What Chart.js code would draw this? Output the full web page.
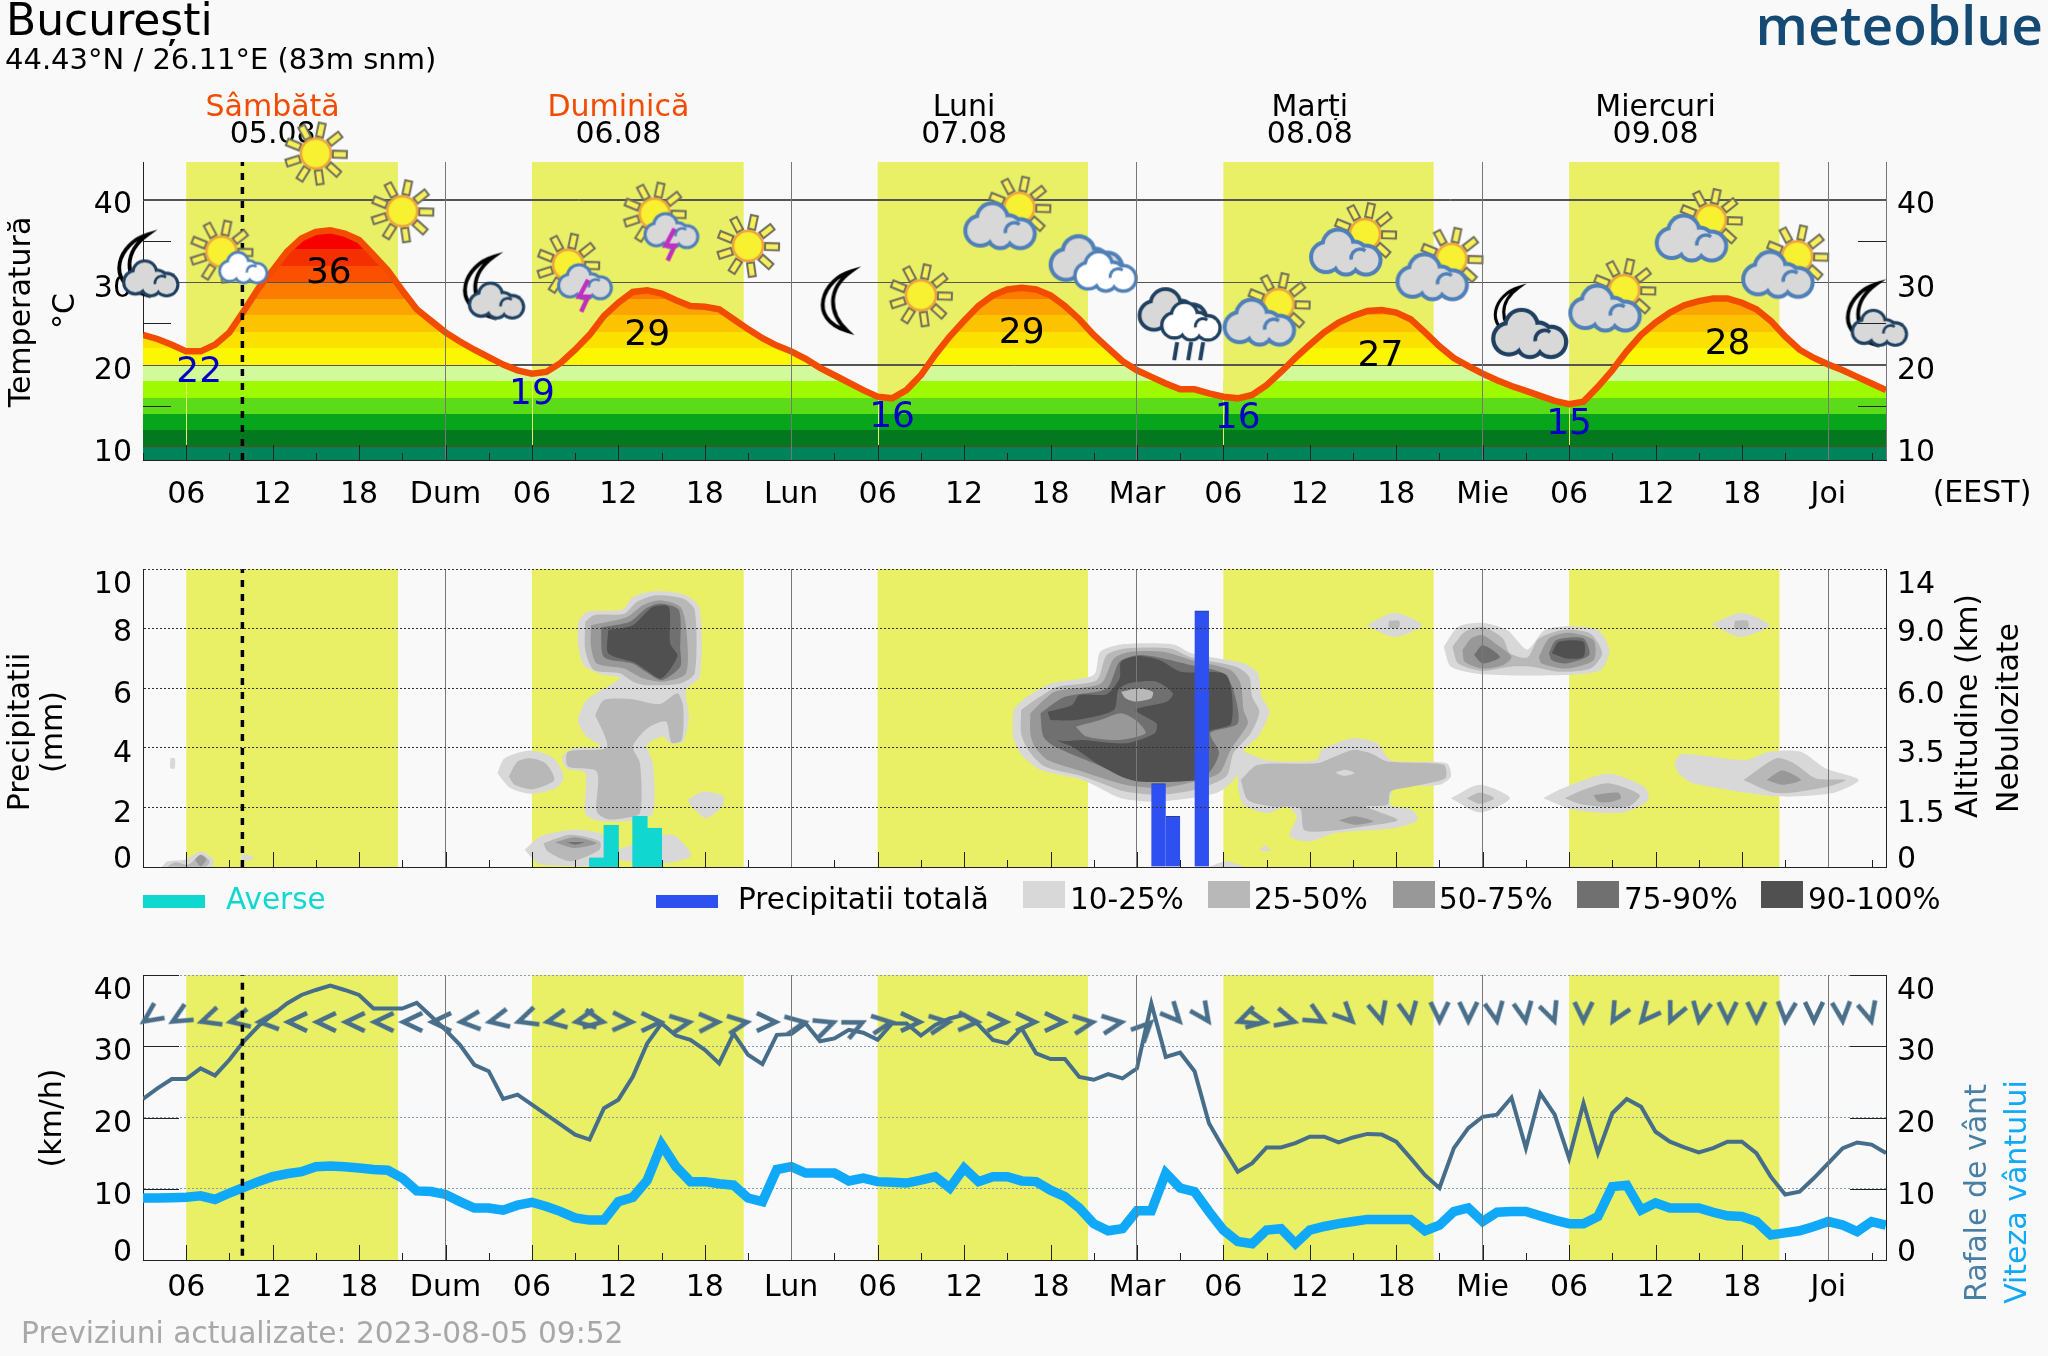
<!DOCTYPE html>
<html>
<head>
<meta charset="utf-8">
<title>meteoblue București</title>
<style>
html,body{margin:0;padding:0;background:#f9f9f9;width:2048px;height:1356px;overflow:hidden}
canvas{position:absolute;left:0;display:block}
</style>
<script src="https://cdn.jsdelivr.net/npm/chart.js@4"></script>
</head>
<body>
<canvas id="topChart" width="2048" height="530" style="top:0"></canvas>
<canvas id="midChart" width="2048" height="400" style="top:530px"></canvas>
<canvas id="lowChart" width="2048" height="426" style="top:930px"></canvas>
<script>
// time axis, hours counted from Saturday 00:00
const xMin = 3, xMax = 124;
const nowHour = 9.9;
const dayAbbrev = ['Dum', 'Lun', 'Mar', 'Mie', 'Joi'];
const dayNames = ['Sâmbătă', 'Duminică', 'Luni', 'Marți', 'Miercuri'];
const dayDates = ['05.08', '06.08', '07.08', '08.08', '09.08'];
const dayNameColors = ['#f24c00', '#f24c00', '#000', '#000', '#000'];
const dayNoon = [12, 36, 60, 84, 108];
const dawn = [6, 30, 54, 78, 102];
const dusk = [20.7, 44.7, 68.6, 92.6, 116.6];

// temperature, one value per hour from xMin to xMax
const temperature = [
  23.6,23.1,22.4,21.6,21.6,22.4,23.9,26.5,29.2,31.4,
  33.7,35.3,36.1,36.3,35.9,35.1,33.3,31.4,29.0,26.7,
  25.3,23.9,22.8,21.8,20.9,20.0,19.3,18.9,19.1,20.2,
  21.8,23.6,25.9,27.5,28.8,29.0,28.6,27.8,27.1,27.0,
  26.7,25.5,24.3,23.2,22.3,21.6,20.7,19.6,18.7,17.8,
  16.9,16.1,15.9,16.9,18.7,21.2,23.4,25.3,27.1,28.4,
  29.1,29.3,29.1,28.4,27.1,25.5,23.6,22.0,20.4,19.3,
  18.5,17.7,17.0,17.0,16.5,16.1,15.9,16.3,17.5,19.1,
  20.8,22.4,23.9,25.1,25.9,26.5,26.6,26.3,25.5,23.9,
  22.2,20.8,19.8,18.9,18.1,17.4,16.8,16.2,15.6,15.2,
  15.5,17.3,19.3,21.6,23.6,25.1,26.3,27.2,27.7,28.0,
  28.0,27.5,26.7,25.3,23.4,21.8,20.8,20.0,19.3,18.5,
  17.7,16.9];
const tempTicks = [10, 20, 30, 40];
const tempShortTicks = [15, 25, 35];
// colour steps of the temperature fill, every 2 degrees from below 10
const tempSteps = [10,12,14,16,18,20,22,24,26,28,30,32,34];
const tempColors = ['#00835a','#04781e','#06a51c','#5cdc18','#9ffa00','#d2f99a','#fbf700','#fae100','#fcc400','#fca500','#fb7c00','#fb5000','#f53000','#f60000'];
// daily min / max labels
const extremeHours = [6.9, 15.9, 30, 38, 55, 64, 79, 88.9, 102, 113];
const extremeRows = [19.05, 31.0, 16.4, 23.5, 13.5, 23.8, 13.4, 21.0, 12.7, 22.4];
const extremeValues = ['22', '36', '19', '29', '16', '29', '16', '27', '15', '28'];
const extremeColors = ['#0000c8','#000','#0000c8','#000','#0000c8','#000','#0000c8','#000','#0000c8','#000'];
// weather pictograms
const iconHours = [3,9,15,21,27,33,39,45,51,57,63,69,75,81,87,93,99,105,111,117,123];
const iconRows = [32.4,33.7,45.6,38.6,29.7,30.9,37.1,34.4,27.7,28.4,38.3,32.4,24.9,26.6,35.1,32.1,25.3,28.3,36.8,32.4,26.4];
const iconKinds = ['moonCloud','sunWhite','sun','sun','moonCloud','sunStorm','sunStorm','sun','moon','sun','sunCloud','clouds','rain','sunCloud','sunCloud','sunCloud','moonBig','sunCloud','sunCloud','sunCloud','moonCloud'];

// precipitation, bars centred on the hour they fill
const showerHours = [34.5, 35.5, 37.5, 38.5];
const showerMm = [0.3, 1.4, 1.7, 1.3];
const totalHours = [34.5, 35.5, 37.5, 38.5, 73.5, 74.5, 76.5];
const totalMm = [0.3, 1.4, 1.7, 1.3, 2.8, 1.7, 8.6];
const rainTicks = [0, 2, 4, 6, 8, 10];
const altitudeLabels = ['0', '1.5', '3.5', '6.0', '9.0', '14'];

// cloud cover contours as [hour, axis value] outlines, one list per cover class
const cloudLevel1 = [
  [[33.2,8.23],[33.8,8.56],[36.3,8.64],[37,9.06],[38.6,9.26],[40.7,9.12],[41.65,8.67],[41.65,6.38],[40.7,5.94],[40.9,5.04],[40.5,4.21],[39.6,4.15],[39.1,4.38],[38,4.1],[38.4,3.48],[38.4,1.81],[37,1.56],[34.5,1.56],[33.7,1.81],[33.7,3.15],[32.4,3.31],[32.1,3.7],[32.9,3.98],[34.8,4.04],[33.8,4.38],[33.2,4.88],[33.8,5.6],[36.1,6.33],[34.8,6.47],[33.6,6.77],[33.2,7.5]],
  [[27.6,3.15],[28.1,3.65],[29.9,3.91],[31.5,3.65],[32.2,3.04],[31.7,2.65],[29.9,2.46],[28.5,2.65]],
  [[40.8,2.25],[41.9,2.53],[43.3,2.37],[43.2,2.03],[42.1,1.64],[41.2,1.98]],
  [[29.5,0.58],[30.6,1.03],[32.9,1.25],[34.7,1.14],[35.2,0.92],[35.2,0.08],[30.6,0.08],[29.9,0.36]],
  [[36,0.58],[39.1,1.08],[40,1.03],[41.05,0.38],[39.1,0.13],[36,0.25]],
  [[4.3,0],[4.7,0.19],[5.96,0.25],[7.03,0.52],[7.9,0.25],[7.74,0]],
  [[4.9,3.65],[5.2,3.65],[5.2,3.31],[4.9,3.31]],
  [[9.86,0.47],[10.75,0.3],[9.86,0.19]],
  [[63.4,5.27],[64.35,5.71],[66.05,6.16],[69,6.44],[69.45,7.22],[70.9,7.47],[74.55,7.47],[75.8,7.17],[79.4,6.83],[80.4,6.5],[80.65,5.71],[81.2,5.21],[80.4,4.38],[79.4,3.93],[78.9,3.04],[77.5,2.48],[73.6,2.2],[70.9,2.31],[68.25,2.92],[65.3,3.26],[63.9,3.82],[63.4,4.38]],
  [[79.2,3.93],[81.1,3.57],[84.5,3.59],[84.8,3.93],[87,4.32],[88.7,4.15],[89.6,3.59],[93.5,3.48],[93.8,3.04],[93,2.76],[89.9,2.65],[89.6,2.09],[91.1,1.92],[91.5,1.58],[89.9,1.31],[85.75,1.14],[84,0.86],[82.6,1.03],[83.1,1.7],[82.35,2.03],[81.1,1.81],[79.4,2.09],[79,2.81]],
  [[93.3,7.39],[94.3,8.06],[96,8.19],[97.7,7.95],[99.1,7.3],[100.3,7.95],[102,8.08],[104,7.95],[104.8,7.28],[104.2,6.61],[101.8,6.44],[96,6.47],[93.8,6.72]],
  [[87.9,8.11],[89.9,8.53],[91.8,8.11],[89.9,7.72]],
  [[111.9,8.15],[114,8.53],[115.9,8.11],[113.9,7.72]],
  [[93.8,2.31],[95.8,2.76],[97.9,2.31],[95.8,1.83]],
  [[100.2,2.31],[101.6,2.65],[104.7,3.13],[107.2,2.7],[107.5,2.25],[105.7,1.83],[102.3,1.92]],
  [[109.3,3.48],[109.8,3.79],[114.2,3.59],[115.9,3.87],[118.1,3.87],[119.8,3.31],[122.1,2.92],[120.3,2.48],[116.4,2.37],[110.6,2.81],[109.6,3.15]],
  [[80.9,0.75],[81.3,0.55],[80.5,0.55]],
  [[77,0],[78.2,0.19],[79.4,0]]
];
const cloudLevel2 = [
  [[34.4,5.1],[35,5.6],[36.8,5.64],[38.9,5.47],[40.1,5.83],[40.5,5.38],[40.4,4.26],[39.7,4.17],[39.3,4.88],[38,4.65],[37,4.04],[37.5,3.48],[37.5,1.81],[36.4,1.64],[35.2,1.61],[34.5,1.86],[34.5,3.2],[32.5,3.37],[32.5,3.87],[35.2,4.02]],
  [[33.7,8.23],[34.3,8.45],[36.4,8.5],[37.3,8.9],[38.6,9.12],[40.5,9.01],[41.3,8.62],[41.3,6.5],[40.3,6.16],[38,6.1],[37,6.22],[36.1,6.5],[34.3,6.61],[33.7,7.28]],
  [[28.4,3.04],[29,3.54],[29.9,3.65],[30.95,3.48],[31.55,2.92],[30.06,2.61],[28.8,2.76]],
  [[30.8,0.8],[32.7,1.08],[34.7,0.86],[34.7,0.58],[32.7,0.19],[31.1,0.52]],
  [[4.7,0.02],[5.25,0.16],[6.14,0.08],[7.03,0.41],[7.63,0.19],[7.38,0.02]],
  [[63.96,5.27],[65.1,5.66],[66.5,6.05],[69.2,6.27],[69.9,7.11],[71.2,7.33],[74.3,7.33],[75.8,7.03],[78.9,6.72],[79.8,6.38],[80,5.71],[80.5,5.21],[79.9,4.49],[78.7,3.82],[78.2,3.04],[76,2.59],[73.6,2.42],[71.2,2.53],[68.25,3.04],[65.6,3.37],[64.45,3.93],[63.96,4.49]],
  [[79.2,2.92],[80.4,3.43],[84.5,3.48],[85.75,3.71],[87,3.93],[88.2,3.82],[89.4,3.54],[93.3,3.43],[93.4,2.98],[91.1,2.7],[89.6,2.53],[89.4,2.09],[87.9,2.03],[90.1,1.58],[87.7,1.36],[84.8,1.19],[83.6,1.25],[83.3,1.98],[81.4,2.03],[79.7,2.25]],
  [[93.9,7.39],[94.75,7.89],[96,8.06],[97.4,7.67],[97.9,7.17],[99.1,7.03],[99.9,7.67],[101.8,7.97],[103.5,7.83],[104.3,7.17],[103.5,6.66],[101.3,6.55],[99.4,6.72],[97.9,6.72],[96,6.58],[94.3,6.83]],
  [[89.5,8.26],[90.2,8.26],[90.2,8.04],[89.5,8.04]],
  [[113.5,8.26],[114.4,8.26],[114.4,8],[113.5,8]],
  [[94.9,2.31],[95.8,2.5],[96.8,2.31],[95.8,2.12]],
  [[101.7,2.31],[103,2.59],[104.7,2.81],[106.9,2.42],[106.1,2.03],[103,2.09]],
  [[114.1,2.92],[116.4,3.65],[117.6,3.48],[119.1,2.98],[121.2,2.92],[119.8,2.68],[116.4,2.48]]
];
const cloudLevel3 = [
  [[34.1,8.11],[36.6,8.39],[37.7,8.78],[38.9,8.95],[40.3,8.73],[40.7,8.06],[40.7,6.5],[39.1,6.22],[37.7,6.33],[36.4,6.66],[34.5,6.83],[34.1,7.39]],
  [[31.6,0.83],[33,1],[34.5,0.8],[32.9,0.64]],
  [[6.6,0.25],[7,0.41],[7.4,0.25],[7,0.02]],
  [[64.6,5.16],[66.3,5.88],[69.5,6.16],[70.4,7],[71.6,7.22],[73.8,7.22],[75.8,6.94],[78.5,6.61],[79.2,6.16],[79.4,5.27],[79.7,4.82],[78.5,3.93],[77.7,3.15],[75.5,2.81],[73.6,2.65],[71.2,2.76],[68.25,3.2],[65.8,3.59],[64.9,4.04],[64.6,4.49]],
  [[86,1.56],[87.1,1.7],[88.4,1.53],[87.1,1.42]],
  [[94.6,7.28],[95.2,7.67],[96,7.78],[97.2,7.39],[98,7.05],[97.4,6.77],[96,6.66],[94.75,6.89]],
  [[99.9,7.05],[100.6,7.67],[102,7.86],[103.7,7.61],[103.7,6.94],[101.8,6.66],[100.1,6.83]],
  [[103.7,2.42],[105.4,2.5],[105.6,2.31],[104.7,2.17],[104,2.2]],
  [[115.7,2.92],[116.8,3.24],[118.1,2.92],[116.8,2.76]]
];
const cloudLevel4 = [
  [[34.8,8.04],[36.8,8.23],[37.9,8.67],[38.9,8.84],[40.2,8.62],[40.3,7.28],[40.3,6.72],[39,6.27],[37.9,6.55],[37,6.83],[35,7.05]],
  [[32.4,0.83],[33.6,0.83],[33,0.75]],
  [[65.3,5.16],[67,5.71],[69.9,5.99],[70.8,6.89],[72.1,7.11],[73.35,7.05],[75.8,6.77],[78,6.5],[78.7,5.94],[79,4.82],[77.1,4.49],[77.7,3.82],[76.75,3.04],[74.55,2.87],[71.9,2.92],[69,3.48],[66.3,4.04],[65.5,4.38]],
  [[95.4,7.11],[96,7.44],[97.2,7.05],[96,6.83]],
  [[100.6,7.17],[101.1,7.61],[103,7.67],[103.4,7.11],[101.8,6.83],[100.8,6.94]]
];
const cloudLevel5 = [
  [[35.3,7.95],[37,8.11],[38.4,8.73],[39.5,8.73],[39.6,7.5],[40.1,7.08],[39,6.33],[38,6.58],[37.15,6.85],[35.3,7.17]],
  [[65.8,5.21],[67.5,5.44],[68,5.77],[69.9,5.8],[70.8,6.33],[70.9,6.89],[72.1,7.08],[73.6,6.94],[75.05,6.55],[78.2,6.44],[78.55,4.82],[76.9,4.49],[76.75,3.04],[74.8,2.87],[72.1,2.87],[70.9,3.04],[69.2,3.48],[67.5,4.04],[66.5,4.26]],
  [[100.8,7.17],[101.3,7.56],[103,7.56],[103,7.05],[101.8,7]]
];
// thinner spots left inside the Monday night cloud, painted after the dark core
const cloudThin75 = [[[65.8,4.93],[67.75,4.93],[70.4,5.27],[70.7,5.94],[71.4,6.16],[73.35,6.22],[74.5,5.83],[74.1,5.55],[71.9,5.27],[73.35,4.82],[73.25,4.49],[71.2,4.15],[68.25,4.26],[66.5,4.26]]];
const cloudThin50 = [[[67.75,4.71],[69.45,4.93],[70.9,5.16],[71.9,4.93],[72.6,4.49],[70.7,4.26],[68.5,4.38]]];
const cloudThin25 = [[[70.9,5.88],[72.1,5.99],[73.1,5.88],[73,5.66],[71.9,5.55],[71.2,5.66]]];
const cloudThin10 = [[[85.75,3.17],[86.5,3.26],[87.1,3.15],[86.3,3.06]]];

// wind, one value per hour from xMin to xMax
const gusts = [
  22.6,24.1,25.4,25.4,26.9,25.9,28.1,30.7,32.8,34.4,
  36,37.2,37.9,38.5,37.9,37.2,35.3,35.3,35.3,36.1,
  34.2,32.3,30.2,27.4,26.5,22.6,23.2,21.8,20.4,19,
  17.6,16.9,21.3,22.5,25.7,30.4,33.2,31.5,30.9,29.5,
  27.6,31.8,28.8,27.5,31.6,31.7,33.2,30.7,31.1,32.3,
  31.9,30.9,33.2,33.2,31.5,33,33.9,34.4,33,30.9,
  30.4,32.5,29,28.2,28.2,25.7,25.3,26.1,25.5,26.9,
  36,28.5,29.1,26.5,19.2,15.7,12.4,13.6,15.8,15.8,
  16.4,17.3,17.3,16.5,17.2,17.7,17.6,16.6,14.3,11.9,
  10.1,15.7,18.5,20.1,20.4,22.8,15.7,23.4,20.4,14.3,
  22,15,20.6,22.6,21.5,18,16.6,15.8,15.1,15.7,
  16.6,16.6,15,11.7,9.2,9.6,11.5,13.6,15.7,16.5,
  16.2,15];
const windSpeed = [
  8.7,8.7,8.75,8.8,9,8.5,9.4,10.2,11,11.7,
  12.1,12.4,13.1,13.2,13.1,12.9,12.7,12.6,11.5,9.7,
  9.6,9.2,8.2,7.3,7.3,7,7.7,8.1,7.5,6.8,
  5.9,5.6,5.6,8.2,8.8,11.2,16.2,13.1,11,11,
  10.7,10.5,8.7,8.2,12.7,13.1,12.2,12.2,12.2,11.1,
  11.5,11,10.9,10.8,11.2,11.7,10.1,12.9,11,11.7,
  11.7,11.1,11,9.8,8.9,7.3,5.1,4.1,4.4,6.9,
  6.9,12.2,10.1,9.6,6.8,4.2,2.6,2.3,4.2,4.4,
  2.3,4.2,4.7,5.1,5.4,5.7,5.7,5.7,5.7,4.1,
  4.9,6.8,7.3,5.4,6.7,6.8,6.8,6.2,5.6,5.1,
  5.1,6.1,10.3,10.5,7,8,7.3,7.3,7.3,6.7,
  6.2,6.1,5.4,3.5,3.8,4.1,4.7,5.4,4.9,4,
  5.4,4.9];
const windTicks = [0, 10, 20, 30, 40];
const windShortTicks = [10, 20, 30, 40];
// direction marks, every 2 hours starting at xMin, degrees clockwise
const windMarkRow = 33.4;
const windDegrees = [55,60,72,78,85,90,90,90,90,90,90,85,78,72,80,80,280,272,270,262,268,262,270,260,250,245,262,270,262,272,270,270,270,262,262,225,318,325,70,280,285,300,315,345,350,0,0,350,350,340,0,30,40,25,10,0,0,5,0,355,345];

const font = 'DejaVu Sans';
const tickFont = {family: font, size: 30};
const hourly = list => list.map((v, i) => ({x: xMin + i, y: v}));
const pairs = (xs, ys) => xs.map((x, i) => ({x: x, y: ys[i]}));
const xTicks = [];
for (let h = xMin; h < xMax; h += 3) xTicks.push(h);

function xLabel(v) {
  if (v % 24 === 0) return dayAbbrev[v / 24 - 1];
  if (v % 6 === 0) return String(v % 24).padStart(2, '0');
  return '';
}

function nowLine(lo, hi) {
  return {type: 'line', data: [{x: nowHour, y: lo}, {x: nowHour, y: hi}], borderColor: '#000', borderWidth: 3.5, borderDash: [7, 7], pointRadius: 0, order: 1};
}

function xAxis(height, padding, showLabels) {
  return {
    type: 'linear', min: xMin, max: xMax, offset: false,
    afterBuildTicks: s => { s.ticks = xTicks.map(v => ({value: v})); },
    afterFit: s => { s.height = height; },
    grid: {drawTicks: false, offset: false, z: 1, lineWidth: 1, color: c => (c.tick && c.tick.value % 24 === 0) ? '#777' : 'transparent'},
    border: {color: '#222', width: 1, z: 2},
    ticks: {display: showLabels, autoSkip: false, maxRotation: 0, minRotation: 0, padding: padding, color: '#000', font: tickFont, callback: v => xLabel(v)}
  };
}

function yAxis(side, width, lo, hi, ticks, gridOpts, borderOpts, labels) {
  return {
    type: 'linear', position: side, min: lo, max: hi,
    afterBuildTicks: s => { s.ticks = ticks.map(v => ({value: v})); },
    afterFit: s => { s.width = width; },
    grid: gridOpts,
    border: borderOpts,
    ticks: {autoSkip: false, padding: 11, color: '#000', font: tickFont, callback: (v, i) => labels ? labels[i] : String(v)}
  };
}
const quietGrid = {drawTicks: false, color: 'transparent'};

// ---- pictograms, prepared once and handed to the icon dataset as point styles
function sun(g, x, y) {
  g.save();
  g.translate(x, y);
  for (let i = 0; i < 9; i++) {
    g.save();
    g.rotate((i * 40 + 12) * Math.PI / 180);
    g.fillStyle = '#f7ef5a';
    g.strokeStyle = '#6e6e5e';
    g.lineWidth = 2;
    g.fillRect(-3.5, -31, 7, 14);
    g.strokeRect(-3.5, -31, 7, 14);
    g.restore();
  }
  g.beginPath();
  g.arc(0, 0, 15, 0, Math.PI * 2);
  g.fillStyle = '#f8f132';
  g.fill();
  g.strokeStyle = '#efa43a';
  g.lineWidth = 2.5;
  g.stroke();
  g.restore();
}
function cloud(g, x, y, s, fill, stroke) {
  const blobs = [[-20, 5, 14.5], [-8, -7, 15], [20, 8, 14], [8, 3, 13], [0, 10, 12]];
  g.save();
  g.translate(x, y);
  g.scale(s, s);
  g.fillStyle = stroke;
  blobs.forEach(b => { g.beginPath(); g.arc(b[0], b[1], b[2] + 2.5, 0, Math.PI * 2); g.fill(); });
  g.fillStyle = fill;
  blobs.forEach(b => { g.beginPath(); g.arc(b[0], b[1], b[2] - 1.5, 0, Math.PI * 2); g.fill(); });
  g.strokeStyle = stroke;
  g.lineWidth = 3.5;
  g.beginPath();
  g.arc(14, 6, 9, Math.PI * 0.95, Math.PI * 1.7);
  g.stroke();
  g.restore();
}
function moon(g, x, y, s) {
  g.save();
  g.translate(x, y);
  g.scale(s, s);
  g.beginPath();
  g.moveTo(17, -30);
  g.bezierCurveTo(-12, -22, -28, 18, 13, 30);
  g.bezierCurveTo(-6, 12, -8, -12, 17, -30);
  g.closePath();
  g.fillStyle = '#f9f9f9';
  g.fill();
  g.strokeStyle = '#000';
  g.lineWidth = 3.8;
  g.stroke();
  g.restore();
}
function bolt(g, x, y) {
  g.save();
  g.translate(x, y);
  g.strokeStyle = '#c030c0';
  g.lineWidth = 4.5;
  g.beginPath();
  g.moveTo(4, -15);
  g.lineTo(-5, 2);
  g.lineTo(4, 2);
  g.lineTo(-3, 17);
  g.stroke();
  g.restore();
}
function iconCanvas(draw) {
  const c = document.createElement('canvas');
  c.width = c.height = 130;
  const g = c.getContext('2d');
  g.translate(65, 65);
  draw(g);
  return c;
}
const dark = '#1f4060', blue = '#5080b8', gray = '#d8d8d8';
const iconArt = {
  sun: iconCanvas(g => sun(g, 0, 0)),
  moon: iconCanvas(g => moon(g, 0, 0, 1)),
  moonCloud: iconCanvas(g => { moon(g, -12, 2, 1); cloud(g, 8, 16, 0.78, gray, dark); }),
  moonBig: iconCanvas(g => { moon(g, -21, -9, 0.82); cloud(g, 4, 12.6, 1.05, gray, dark); }),
  sunWhite: iconCanvas(g => { sun(g, -8, 0); cloud(g, 14, 16, 0.68, '#fff', blue); }),
  sunStorm: iconCanvas(g => { sun(g, -7, -10); cloud(g, 10, 7, 0.76, gray, blue); bolt(g, 9, 20); }),
  sunCloud: iconCanvas(g => { sun(g, 12, -6); cloud(g, -7, 12, 1, gray, blue); }),
  clouds: iconCanvas(g => { cloud(g, -7, -3, 1.03, gray, blue); cloud(g, 12, 9, 0.88, '#fff', blue); }),
  rain: iconCanvas(g => {
    cloud(g, -7, -13.5, 0.96, gray, dark);
    cloud(g, 11, -3, 0.84, '#fff', dark);
    g.strokeStyle = dark;
    g.lineWidth = 4;
    [-5, 9, 21].forEach(x => { g.beginPath(); g.moveTo(x + 2, 18); g.lineTo(x - 1, 36); g.stroke(); });
  })
};
const windMark = (function () {
  const c = document.createElement('canvas');
  c.width = c.height = 56;
  const g = c.getContext('2d');
  g.translate(28, 28);
  g.strokeStyle = '#4a6f8a';
  g.lineWidth = 4.6;
  g.lineJoin = 'miter';
  g.beginPath();
  g.moveTo(-9, -20);
  g.lineTo(0, -1);
  g.lineTo(9, -20);
  g.stroke();
  return c;
})();

// ---- text helper and per panel extras
function put(g, s, x, y, fnt, color, deg, align) {
  g.save();
  g.translate(x, y);
  if (deg) g.rotate(deg * Math.PI / 180);
  g.font = fnt;
  g.fillStyle = color;
  g.textAlign = align || 'center';
  g.textBaseline = 'middle';
  g.fillText(s, 0, 0);
  g.restore();
}
const f30 = '30px "' + font + '"';
const fLegend = '29.5px "' + font + '"';
const cloudShades = ['#d8d8d8', '#b8b8b8', '#989898', '#707070', '#505050'];

const panels = {
  topChart: {
    nudge: {y: [6, 7, 7, 6], y1: [6, 7, 7, 6]},
    short: tempShortTicks, shortLen: 28,
    text(g, chart) {
      put(g, 'București', 6, 24, '44px "' + font + '"', '#000', 0, 'left');
      put(g, '44.43°N / 26.11°E (83m snm)', 5, 61, '29px "' + font + '"', '#000', 0, 'left');
      put(g, 'meteoblue', 2043, 29, '600 55px "Open Sans"', '#144a73', 0, 'right');
      put(g, 'Temperatură', 22, 312, f30, '#000', -90);
      put(g, '°C', 66, 311, f30, '#000', -90);
      put(g, '(EEST)', 1982, 494, f30, '#000');
      extremeValues.forEach((s, i) => {
        put(g, s, chart.scales.x.getPixelForValue(extremeHours[i]), chart.scales.y.getPixelForValue(extremeRows[i]), '36px "' + font + '"', extremeColors[i]);
      });
    }
  },
  midChart: {
    nudge: {y: [-7, 7, 6, 7, 5, 16], y1: [-7, 7, 6, 7, 5, 16]},
    text(g) {
      put(g, 'Precipitatii', 21, 202, f30, '#000', -90);
      put(g, '(mm)', 54, 202, f30, '#000', -90);
      put(g, 'Altitudine (km)', 1969, 176, f30, '#000', -90);
      put(g, 'Nebulozitate', 2010, 188, f30, '#000', -90);
      g.fillStyle = '#10d8d0';
      g.fillRect(143, 365, 62, 13);
      put(g, 'Averse', 226, 371, fLegend, '#10d8d0', 0, 'left');
      g.fillStyle = '#2f50f0';
      g.fillRect(656, 365, 62, 13);
      put(g, 'Precipitatii totală', 738, 371, fLegend, '#000', 0, 'left');
      [[1023, '10-25%', 1070], [1208, '25-50%', 1254], [1393, '50-75%', 1439], [1577, '75-90%', 1624], [1761, '90-100%', 1808]].forEach((e, i) => {
        g.fillStyle = cloudShades[i];
        g.fillRect(e[0], 351, 42, 27);
        put(g, e[1], e[2], 371, fLegend, '#000', 0, 'left');
      });
    }
  },
  lowChart: {
    nudge: {y: [-7, 7, 7, 6, 16], y1: [-7, 7, 7, 6, 16]},
    short: windShortTicks, shortLen: 36,
    text(g) {
      put(g, '(km/h)', 53, 188, f30, '#000', -90);
      put(g, 'Rafale de vânt', 1978, 263, f30, '#4a7fa5', -90);
      put(g, 'Viteza vântului', 2018, 262, f30, '#10a8f8', -90);
      put(g, 'Previziuni actualizate: 2023-08-05 09:52', 21, 405, '29.7px "' + font + '"', '#a8a8a8', 0, 'left');
    }
  }
};

const panelPlugin = {
  id: 'panel',
  afterUpdate(chart) {
    // tick labels at the panel edges sit inside the panel, the rest just under the line
    const nudge = panels[chart.canvas.id].nudge;
    Object.keys(nudge).forEach(id => {
      chart.scales[id].getLabelItems().forEach((item, i) => { item.options.translation[1] += nudge[id][i]; });
    });
  },
  beforeDraw(chart) {
    const g = chart.ctx, a = chart.chartArea, x = chart.scales.x;
    g.save();
    g.fillStyle = '#e9f065';
    dawn.forEach((d, i) => {
      const l = x.getPixelForValue(d);
      g.fillRect(l, a.top, x.getPixelForValue(dusk[i]) - l, a.bottom - a.top);
    });
    g.restore();
  },
  afterDatasetDraw(chart, args) {
    // the temperature fill must not hide the grid
    if (chart.data.datasets[args.index].label !== 'tempFill') return;
    const g = chart.ctx, a = chart.chartArea, x = chart.scales.x, y = chart.scales.y;
    g.save();
    g.lineWidth = 1;
    g.strokeStyle = '#e9f065';
    dawn.forEach(d => { const p = Math.round(x.getPixelForValue(d)) + 0.5; g.beginPath(); g.moveTo(p, y.getPixelForValue(18)); g.lineTo(p, a.bottom); g.stroke(); });
    g.strokeStyle = '#555';
    tempTicks.forEach(v => { const p = Math.round(y.getPixelForValue(v)) + 0.5; g.beginPath(); g.moveTo(a.left, p); g.lineTo(a.right, p); g.stroke(); });
    g.restore();
  },
  afterDatasetsDraw(chart) {
    const g = chart.ctx, a = chart.chartArea, x = chart.scales.x, y = chart.scales.y;
    const cfg = panels[chart.canvas.id];
    g.save();
    g.lineWidth = 1;
    g.strokeStyle = '#222';
    xTicks.forEach(v => {
      const p = Math.round(x.getPixelForValue(v)) + 0.5;
      g.beginPath();
      g.moveTo(p, a.bottom);
      g.lineTo(p, a.bottom - (v % 6 === 0 ? 15 : 7));
      g.stroke();
    });
    (cfg.short || []).forEach(v => {
      const p = Math.round(y.getPixelForValue(v)) + 0.5;
      g.beginPath();
      g.moveTo(a.left, p);
      g.lineTo(a.left + cfg.shortLen, p);
      g.moveTo(a.right, p);
      g.lineTo(a.right - cfg.shortLen, p);
      g.stroke();
    });
    cfg.text(g, chart);
    g.restore();
  }
};
Chart.register(panelPlugin);

const baseOptions = {
  responsive: false,
  animation: false,
  events: [],
  plugins: {legend: {display: false}, tooltip: {enabled: false}}
};

// ---- temperature panel
const tempLo = 8.42, tempHi = 44.57;
function tempGradient(ctx) {
  const chart = ctx.chart, a = chart.chartArea;
  if (!a) return '#fbf700';
  const grad = chart.ctx.createLinearGradient(0, a.bottom, 0, a.top);
  const stop = t => (t - tempLo) / (tempHi - tempLo);
  tempColors.forEach((c, i) => {
    grad.addColorStop(i === 0 ? 0 : stop(tempSteps[i - 1]), c);
    grad.addColorStop(i === tempSteps.length ? 1 : stop(tempSteps[i]), c);
  });
  return grad;
}
new Chart(document.getElementById('topChart'), {
  type: 'line',
  data: {datasets: [
    {label: 'icons', data: pairs(iconHours, iconRows), showLine: false, clip: false, order: 0,
      pointStyle: iconKinds.map(k => iconArt[k]), pointRadius: 60},
    nowLine(tempLo, tempHi),
    {label: 'Temperatura', data: hourly(temperature), borderColor: '#f24c00', borderWidth: 6.5, pointRadius: 0, order: 3},
    {label: 'tempFill', data: hourly(temperature), borderWidth: 0, pointRadius: 0, order: 5, fill: 'start', backgroundColor: tempGradient}
  ]},
  options: Object.assign({}, baseOptions, {
    scales: {
      x: xAxis(70, 17, true),
      y: yAxis('left', 143, tempLo, tempHi, tempTicks, {drawTicks: false, color: '#555'}, {color: '#222'}),
      y1: yAxis('right', 162, tempLo, tempHi, tempTicks, quietGrid, {color: '#777'}),
      xDay: {
        type: 'linear', position: 'top', min: xMin, max: xMax, weight: 2,
        afterBuildTicks: s => { s.ticks = dayNoon.map(v => ({value: v})); },
        afterFit: s => { s.height = 120; },
        grid: {display: false, drawTicks: false}, border: {display: false},
        ticks: {autoSkip: false, maxRotation: 0, padding: -6, font: tickFont, color: c => dayNameColors[c.index], callback: (v, i) => dayNames[i]}
      },
      xDate: {
        type: 'linear', position: 'top', min: xMin, max: xMax, weight: 1,
        afterBuildTicks: s => { s.ticks = dayNoon.map(v => ({value: v})); },
        afterFit: s => { s.height = 42; },
        grid: {display: false, drawTicks: false}, border: {display: false},
        ticks: {autoSkip: false, maxRotation: 0, padding: 9, font: tickFont, color: '#000', callback: (v, i) => dayDates[i]}
      }
    }
  })
});

// ---- precipitation and cloud panel
const cloudSets = [];
function addClouds(list, shade) {
  list.forEach(outline => {
    const pts = outline.concat([outline[0]]).map(p => ({x: p[0], y: p[1]}));
    cloudSets.push({type: 'line', data: pts, borderWidth: 0, pointRadius: 0, tension: 0.25, fill: 'shape', backgroundColor: shade, order: 100 - cloudSets.length});
  });
}
addClouds(cloudLevel1, cloudShades[0]);
addClouds(cloudLevel2, cloudShades[1]);
addClouds(cloudLevel3, cloudShades[2]);
addClouds(cloudLevel4, cloudShades[3]);
addClouds(cloudLevel5, cloudShades[4]);
addClouds(cloudThin75, cloudShades[3]);
addClouds(cloudThin50, cloudShades[2]);
addClouds(cloudThin25, cloudShades[1]);
addClouds(cloudThin10, cloudShades[0]);

new Chart(document.getElementById('midChart'), {
  type: 'line',
  data: {datasets: [
    nowLine(0, 10),
    {type: 'bar', label: 'Averse', data: pairs(showerHours, showerMm), backgroundColor: '#10d8d0', grouped: false, barThickness: 14.4, order: 2},
    {type: 'bar', label: 'Precipitatii totală', data: pairs(totalHours, totalMm), backgroundColor: '#2f50f0', borderColor: '#24408f', borderWidth: {top: 1}, grouped: false, barThickness: 14.4, order: 3}
  ].concat(cloudSets)},
  options: Object.assign({}, baseOptions, {
    layout: {padding: {top: 39}},
    scales: {
      x: xAxis(63, 0, false),
      y: yAxis('left', 143, 0, 10, rainTicks, {drawTicks: false, color: '#333', z: 1}, {color: '#222', dash: [2, 2], z: 2}),
      y1: yAxis('right', 162, 0, 10, rainTicks, quietGrid, {color: '#222'}, altitudeLabels)
    }
  })
});

// ---- wind panel
new Chart(document.getElementById('lowChart'), {
  type: 'line',
  data: {datasets: [
    {label: 'Direcție', data: windDegrees.map((d, i) => ({x: xMin + i * 2, y: windMarkRow})), showLine: false, clip: false, order: 2,
      pointStyle: windMark, pointRadius: 28, pointRotation: windDegrees},
    nowLine(0.6, 40),
    {label: 'Rafale de vânt', data: hourly(gusts), borderColor: '#466e8a', borderWidth: 4, pointRadius: 0, order: 4},
    {label: 'Viteza vântului', data: hourly(windSpeed), borderColor: '#10a8f8', borderWidth: 9.5, pointRadius: 0, order: 3}
  ]},
  options: Object.assign({}, baseOptions, {
    layout: {padding: {top: 45}},
    scales: {
      x: xAxis(96, 10, true),
      y: yAxis('left', 143, 0, 40, windTicks, {drawTicks: false, color: '#8a9aa8'}, {color: '#222', dash: [2, 2]}),
      y1: yAxis('right', 162, 0, 40, windTicks, quietGrid, {color: '#222'})
    }
  })
});
</script>
</body>
</html>
